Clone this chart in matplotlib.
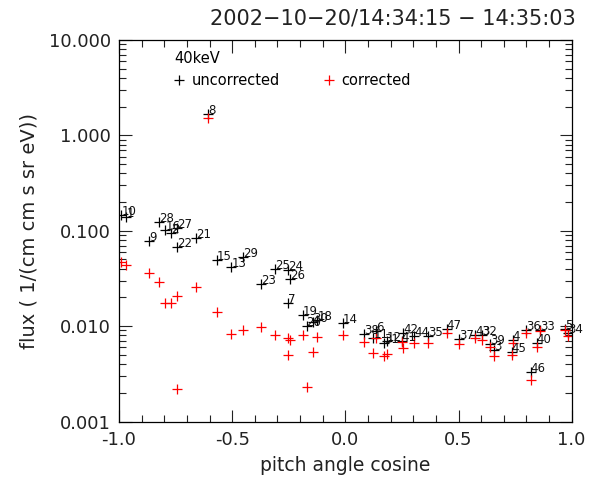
#!/usr/bin/env python3
"""Pitch angle distribution at 40 keV: uncorrected vs corrected flux, each sample tagged by index."""

import matplotlib
matplotlib.use("Agg")
import matplotlib.pyplot as plt
from matplotlib.ticker import FormatStrFormatter, MultipleLocator, LogLocator, NullFormatter

# sample index, pitch angle cosine, uncorrected flux, corrected flux
labels = [10, 1, 9, 28, 16, 2, 27, 22, 21, 8, 15, 13, 29, 23, 25, 24, 26, 7,
          19, 20, 30, 18, 14, 38, 11, 6, 31, 12, 41, 42, 44, 35, 47, 37, 43, 32,
          39, 3, 4, 45, 36, 46, 40, 33, 5, 34]
pa_cos = [-0.990, -0.968, -0.866, -0.823, -0.795, -0.768, -0.744, -0.742, -0.659,
          -0.605, -0.568, -0.503, -0.451, -0.373, -0.311, -0.253, -0.244, -0.255,
          -0.188, -0.171, -0.141, -0.124, -0.011, 0.083, 0.124, 0.134, 0.171, 0.183,
          0.249, 0.255, 0.304, 0.367, 0.448, 0.504, 0.573, 0.603, 0.639, 0.657,
          0.740, 0.735, 0.798, 0.819, 0.846, 0.860, 0.971, 0.985]
flux_uncorr = [0.146, 0.141, 0.079, 0.124, 0.101, 0.095, 0.108, 0.068, 0.083,
               1.68, 0.049, 0.042, 0.0535, 0.0275, 0.040, 0.0388, 0.031, 0.0174,
               0.0131, 0.0100, 0.0110, 0.0116, 0.0107, 0.0082, 0.0075, 0.0089,
               0.0067, 0.0070, 0.0070, 0.0084, 0.0078, 0.0078, 0.0093, 0.0073,
               0.0081, 0.0081, 0.0065, 0.0056, 0.0072, 0.0054, 0.0092, 0.0033,
               0.0066, 0.0091, 0.0093, 0.0084]
flux_corr = [0.047, 0.044, 0.036, 0.029, 0.0176, 0.0176, 0.0022, 0.0207, 0.0256,
             1.53, 0.0142, 0.0083, 0.0092, 0.0097, 0.0080, 0.0075, 0.0072, 0.0050,
             0.0081, 0.0023, 0.0054, 0.0077, 0.0080, 0.0069, 0.0052, 0.0075,
             0.0049, 0.0051, 0.0069, 0.0059, 0.0067, 0.0066, 0.0084, 0.0065,
             0.0075, 0.0071, 0.0061, 0.0049, 0.0066, 0.0050, 0.0085, 0.0027,
             0.0060, 0.0088, 0.0090, 0.0078]

title = "2002\u221210\u221220/14:34:15 \u2212 14:35:03"
energy = "40keV"
ink = "#222222"

plt.rcParams["font.family"] = "DejaVu Sans"
fig = plt.figure(figsize=(5.89, 4.83), dpi=100)
ax = fig.add_axes([0.2020, 0.1273, 0.7686, 0.7899])

ax.plot(pa_cos, flux_uncorr, "+", color="black", ms=7, mew=0.9, label="uncorrected")
ax.plot(pa_cos, flux_corr, "+", color="red", ms=7, mew=0.9, label="corrected")
# index tags sit with their baseline on the uncorrected point
for lab, x, y in zip(labels, pa_cos, flux_uncorr):
    ax.text(x, y, str(lab), fontsize=8.5, ha="left", va="baseline", color="#111111")

ax.set_yscale("log")
ax.set_xlim(-1, 1)
ax.set_ylim(0.001, 10)
ax.xaxis.set_major_locator(MultipleLocator(0.5))
ax.xaxis.set_minor_locator(MultipleLocator(0.1))
ax.xaxis.set_major_formatter(FormatStrFormatter("%.1f"))
ax.yaxis.set_major_locator(LogLocator(base=10))
ax.yaxis.set_minor_locator(LogLocator(base=10, subs=range(2, 10)))
ax.yaxis.set_major_formatter(FormatStrFormatter("%.3f"))
ax.yaxis.set_minor_formatter(NullFormatter())
ax.tick_params(which="both", direction="in", top=True, right=True, width=0.8,
               labelsize=13, colors=ink)
ax.tick_params(which="major", length=9)
ax.tick_params(which="minor", length=5)
ax.tick_params(axis="x", pad=7)
ax.tick_params(axis="y", pad=6)
for s in ax.spines.values():
    s.set_linewidth(0.9)

ax.set_xlabel("pitch angle cosine", fontsize=13.5, color=ink, labelpad=5)
ax.set_ylabel("flux ( 1/(cm cm s sr eV))", fontsize=14, color=ink, labelpad=7)
fig.text(392.5 / 589, 1 - 18 / 483, title, fontsize=15, ha="center", va="center",
         color=ink)

leg = ax.legend(loc="upper left", bbox_to_anchor=(0.122, 0.972), ncol=2, title=energy,
                frameon=False, fontsize=10.5, title_fontsize=10.5, handlelength=0.7,
                handletextpad=0.5, columnspacing=3.0, borderpad=0, borderaxespad=0,
                alignment="left", numpoints=1)

fig.savefig("out.png", dpi=100)
